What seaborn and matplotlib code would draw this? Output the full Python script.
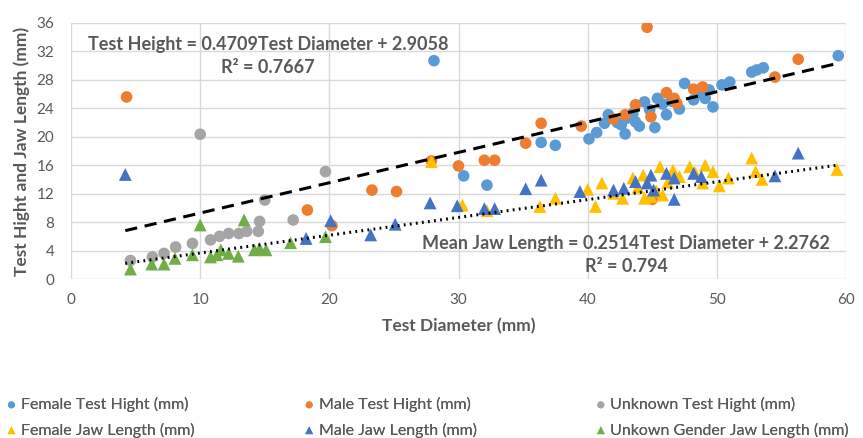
import numpy as np
import pandas as pd
import seaborn as sns
import matplotlib.pyplot as plt

# test height, circles
female_th_x = [28.1, 30.4, 32.2, 36.4, 37.5, 40.1, 40.7, 41.3, 41.6, 42.3, 42.9, 43.5, 43.7, 44.0,
               44.4, 45.2, 45.4, 46.1, 47.1, 47.5, 48.2, 49.1, 49.7, 50.4, 51.0, 52.7, 53.1, 53.6,
               59.4, 43.0, 44.8, 45.8, 46.5, 48.6, 49.4, 42.6]
female_th_y = [30.7, 14.5, 13.2, 19.2, 18.8, 19.7, 20.6, 21.9, 23.1, 22.0, 20.4, 23.3, 22.1, 21.5,
               24.9, 21.3, 25.4, 23.1, 23.9, 27.5, 25.2, 25.4, 24.2, 27.3, 27.7, 29.1, 29.4, 29.7,
               31.4, 22.6, 23.8, 24.6, 25.0, 26.1, 26.6, 21.7]
male_th_x = [4.3, 18.3, 20.2, 23.3, 25.2, 27.9, 30.0, 32.0, 32.8, 35.2, 36.4, 39.5, 42.0, 42.9,
             43.7, 44.6, 44.9, 45.0, 46.1, 46.7, 46.9, 48.2, 48.9, 54.5, 56.3]
male_th_y = [25.6, 9.7, 7.5, 12.5, 12.3, 16.6, 15.9, 16.7, 16.7, 19.1, 21.9, 21.5, 22.5, 23.1,
             24.5, 35.4, 22.8, 11.2, 26.2, 25.4, 24.7, 26.7, 27.0, 28.4, 30.9]
unknown_th_x = [4.6, 6.3, 7.2, 8.1, 9.4, 10.0, 10.8, 11.5, 12.2, 13.0, 13.6, 14.5, 14.6, 15.0,
                17.2, 19.7]
unknown_th_y = [2.6, 3.1, 3.6, 4.5, 5.0, 20.35, 5.5, 6.0, 6.4, 6.4, 6.7, 6.7, 8.1, 11.1,
                8.3, 15.1]

# jaw length, triangles
female_jl_x = [27.9, 30.3, 32.2, 36.3, 37.5, 40.0, 40.6, 41.1, 42.0, 42.7, 43.5, 44.3, 44.4, 45.6,
               45.8, 46.6, 47.1, 47.9, 48.9, 49.1, 49.7, 50.2, 50.9, 52.7, 53.0, 53.5, 59.3,
               43.9, 45.3, 48.3, 46.2, 44.9]
female_jl_y = [16.5, 10.4, 9.6, 10.2, 11.35, 12.6, 10.2, 13.5, 12.05, 11.35, 14.2, 14.6, 11.35, 15.8,
               11.8, 15.3, 14.4, 15.8, 13.5, 16.0, 15.1, 13.1, 14.2, 17.0, 15.1, 14.0, 15.4,
               12.9, 12.4, 15.0, 13.6, 11.6]
male_jl_x = [4.2, 18.2, 20.1, 23.2, 25.1, 27.8, 29.9, 32.0, 32.8, 35.2, 36.4, 39.4, 42.0, 42.8,
             43.7, 44.6, 44.9, 45.1, 46.1, 46.7, 46.7, 48.2, 48.8, 54.5, 56.3]
male_jl_y = [14.7, 5.7, 8.2, 6.2, 7.7, 10.7, 10.3, 9.9, 9.9, 12.7, 13.9, 12.3, 12.5, 12.75,
             13.7, 13.5, 14.6, 12.5, 14.85, 11.2, 14.2, 14.85, 14.4, 14.5, 17.7]
unknown_jl_x = [4.6, 6.25, 7.2, 8.05, 9.4, 10.0, 10.8, 11.3, 11.6, 12.2, 12.95, 13.4, 14.2, 14.6,
                15.1, 17.0, 19.7]
unknown_jl_y = [1.4, 2.1, 2.1, 2.9, 3.4, 7.6, 3.1, 3.4, 4.1, 3.6, 3.2, 8.3, 4.1, 4.3,
                4.1, 5.1, 5.95]

# trendlines as drawn (end points) and the labels printed on it
trend_x = [4.2, 59.3]
th_trend_y = [6.8, 30.3]
jl_trend_y = [2.2, 16.0]
th_label = ["Test Height = 0.4709Test Diameter + 2.9058", "R² = 0.7667"]
jl_label = ["Mean Jaw Length = 0.2514Test Diameter + 2.2762", "R² = 0.794"]

series = [
    ("Female Test Hight (mm)", female_th_x, female_th_y, "#5B9BD5", "o"),
    ("Male Test Hight (mm)", male_th_x, male_th_y, "#ED7D31", "o"),
    ("Unknown Test Hight (mm)", unknown_th_x, unknown_th_y, "#A5A5A5", "o"),
    ("Female Jaw Length (mm)", female_jl_x, female_jl_y, "#FFC000", "^"),
    ("Male Jaw Length (mm)", male_jl_x, male_jl_y, "#4472C4", "^"),
    ("Unkown Gender Jaw Length (mm)", unknown_jl_x, unknown_jl_y, "#70AD47", "^"),
]

sns.set_style("white")
plt.rcParams['font.family'] = ['Lato', 'DejaVu Sans']
grey = "#595959"

fig = plt.figure(figsize=(8.63, 4.38), dpi=100)
ax = fig.add_axes([0.0823, 0.363, 0.898, 0.5845])

for name, xs, ys, col, mk in series:
    sns.scatterplot(x=xs, y=ys, ax=ax, color=col, marker=mk, s=70 if mk == "o" else 85,
                    edgecolor="none", linewidth=0, label=name)

sns.lineplot(x=trend_x, y=th_trend_y, ax=ax, color="black", lw=2.2,
             linestyle=(0, (4, 2.5)), zorder=5)
sns.lineplot(x=trend_x, y=jl_trend_y, ax=ax, color="black", lw=2.2,
             linestyle=(0, (0.6, 1.4)), zorder=5)

for txt, yy in zip(th_label, [33.0, 29.7]):
    ax.text(15.25, yy, txt, ha="center", va="center", fontsize=13, color=grey, fontweight="bold")
for txt, yy in zip(jl_label, [5.06, 1.69]):
    ax.text(43.0, yy, txt, ha="center", va="center", fontsize=13, color=grey, fontweight="bold")

ax.set_xlim(0, 60)
ax.set_ylim(0, 36)
ax.set_xticks(range(0, 61, 10))
ax.set_yticks(range(0, 37, 4))
ax.grid(True, color="#D9D9D9", lw=1)
ax.set_axisbelow(True)
for s in ax.spines.values():
    s.set_visible(False)
ax.tick_params(axis="both", length=0, labelsize=11, colors=grey)
ax.tick_params(axis="y", pad=12)
ax.tick_params(axis="x", pad=10)
ax.set_xlabel("Test Diameter (mm)", fontsize=12.5, fontweight="bold", color=grey, labelpad=8)
ax.set_ylabel("Test Hight and Jaw Length (mm)", fontsize=12.5, fontweight="bold", color=grey,
              labelpad=5)

h, l = ax.get_legend_handles_labels()
ax.get_legend().remove()
for k, xpos in enumerate([0.004, 0.349, 0.687]):
    leg = fig.legend([h[k], h[k + 3]], [l[k], l[k + 3]], loc="upper left",
                     bbox_to_anchor=(xpos, 1 - 397 / 438), frameon=False, fontsize=11.5,
                     labelcolor=grey, handletextpad=0.1, handlelength=1.0, markerscale=0.6,
                     labelspacing=0.65, borderaxespad=0, borderpad=0)
    fig.add_artist(leg)

fig.savefig("out.png", dpi=100)
